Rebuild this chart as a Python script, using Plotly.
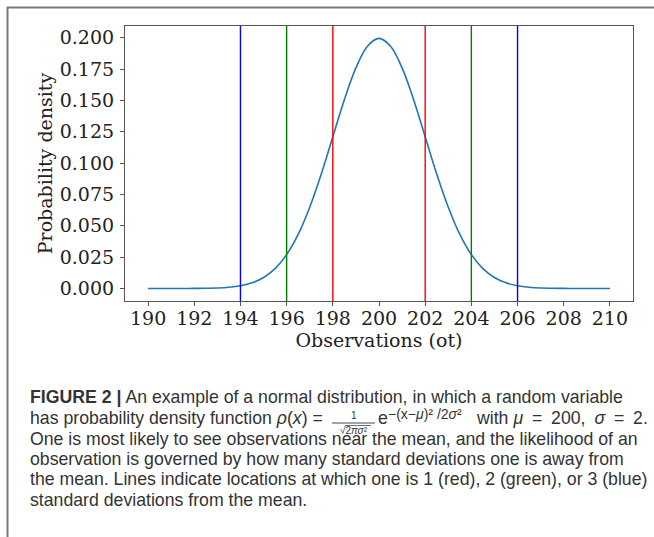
import plotly.graph_objects as go

# ---- data ----
obs_x = [190.0, 190.5, 191.0, 191.5, 192.0, 192.5, 193.0, 193.5, 194.0, 194.5,
         195.0, 195.5, 196.0, 196.5, 197.0, 197.5, 198.0, 198.5, 199.0, 199.5,
         200.0, 200.5, 201.0, 201.5, 202.0, 202.5, 203.0, 203.5, 204.0, 204.5,
         205.0, 205.5, 206.0, 206.5, 207.0, 207.5, 208.0, 208.5, 209.0, 209.5, 210.0]
density = [0.0000, 0.0000, 0.0000, 0.0000, 0.0001, 0.0002, 0.0004, 0.0010, 0.0022, 0.0045,
           0.0088, 0.0159, 0.0270, 0.0431, 0.0648, 0.0913, 0.1210, 0.1506, 0.1760, 0.1933,
           0.1995, 0.1933, 0.1760, 0.1506, 0.1210, 0.0913, 0.0648, 0.0431, 0.0270, 0.0159,
           0.0088, 0.0045, 0.0022, 0.0010, 0.0004, 0.0002, 0.0001, 0.0000, 0.0000, 0.0000, 0.0000]

sd_lines_x = [198, 202, 196, 204, 194, 206]
sd_lines_color = ["#ff0000", "#ff0000", "#008000", "#008000", "#0000ff", "#0000ff"]

x_ticks = [190, 192, 194, 196, 198, 200, 202, 204, 206, 208, 210]
y_ticks = [0.0, 0.025, 0.05, 0.075, 0.1, 0.125, 0.15, 0.175, 0.2]

caption_lines = [
    "<b>FIGURE 2 |</b> An example of a normal distribution, in which a random variable",
    None,
    "One is most likely to see observations near the mean, and the likelihood of an",
    "observation is governed by how many standard deviations one is away from",
    "the mean. Lines indicate locations at which one is 1 (red), 2 (green), or 3 (blue)",
    "standard deviations from the mean.",
]

# ---- layout geometry (pixels) ----
W, H = 654, 537
L, R, T, B = 125, 21, 26, 236
PW, PH = W - L - R, H - T - B


def px(x):
    return (x - L) / PW


def py(y):
    return (H - B - y) / PH


fig = go.Figure()

fig.add_trace(go.Scatter(x=obs_x, y=density, mode="lines",
                         line=dict(color="#1f77b4", width=1.6, shape="spline", smoothing=1.0),
                         showlegend=False, hoverinfo="skip"))

for xv, col in zip(sd_lines_x, sd_lines_color):
    fig.add_shape(type="line", xref="x", yref="paper", x0=xv, x1=xv, y0=0, y1=1,
                  line=dict(color=col, width=1.4))

# outer frame (top and left edges)
frame_col = "#7a7a7a"
fig.add_shape(type="line", xref="paper", yref="paper", x0=px(7), x1=px(660), y0=py(7.5), y1=py(7.5),
              line=dict(color=frame_col, width=2))
fig.add_shape(type="line", xref="paper", yref="paper", x0=px(7.5), x1=px(7.5), y0=py(7), y1=py(545),
              line=dict(color=frame_col, width=2))

txt_col = "#333333"
cap_font = dict(family="Liberation Sans, Arial, sans-serif", size=17.7, color=txt_col)
line_y = [397, 418, 438.5, 459, 479.5, 500]
for txt, yy in zip(caption_lines, line_y):
    if txt is None:
        continue
    fig.add_annotation(text=txt, xref="paper", yref="paper", x=px(28), y=py(yy),
                       xanchor="left", yanchor="middle", showarrow=False, font=cap_font)

# formula line
fig.add_annotation(text="has probability density function <i>ρ</i>(<i>x</i>) =",
                   xref="paper", yref="paper", x=px(28), y=py(418),
                   xanchor="left", yanchor="middle", showarrow=False, font=cap_font)
small_font = dict(family="Liberation Sans, Arial, sans-serif", size=10, color=txt_col)
fig.add_annotation(text="1", xref="paper", yref="paper", x=px(353.5), y=py(415),
                   xanchor="center", yanchor="middle", showarrow=False, font=small_font)
fig.add_annotation(text="√2<i>πσ</i>²", xref="paper", yref="paper", x=px(353.5), y=py(430),
                   xanchor="center", yanchor="middle", showarrow=False, font=small_font)
fig.add_shape(type="line", xref="paper", yref="paper", x0=px(332), x1=px(375), y0=py(423), y1=py(423),
              line=dict(color=txt_col, width=0.9))
fig.add_shape(type="line", xref="paper", yref="paper", x0=px(345), x1=px(371), y0=py(425.5), y1=py(425.5),
              line=dict(color=txt_col, width=0.7))
fig.add_annotation(text="e", xref="paper", yref="paper", x=px(375.5), y=py(418),
                   xanchor="left", yanchor="middle", showarrow=False, font=cap_font)
fig.add_annotation(text="−(x−<i>μ</i>)² /2<i>σ</i>²", xref="paper", yref="paper", x=px(386), y=py(413.5),
                   xanchor="left", yanchor="middle", showarrow=False,
                   font=dict(family="Liberation Sans, Arial, sans-serif", size=14, color=txt_col))
fig.add_annotation(text="with <i>μ</i>\u2002=\u2002200,\u2002<i>σ</i>\u2002=\u20022.",
                   xref="paper", yref="paper", x=px(474), y=py(418),
                   xanchor="left", yanchor="middle", showarrow=False, font=cap_font)

tick_font = dict(family="DejaVu Serif, serif", size=19, color="#222222")
axis_col = "#555555"
fig.update_xaxes(range=[189, 211], tickvals=x_ticks, ticktext=[str(v) for v in x_ticks],
                 ticks="outside", ticklen=4, tickcolor=axis_col, tickfont=tick_font,
                 ticklabelstandoff=-4,
                 showline=True, linecolor=axis_col, linewidth=1.2, mirror=True,
                 showgrid=False, zeroline=False,
                 title=dict(text="Observations (ot)", font=tick_font, standoff=2))
fig.update_yaxes(range=[-0.00997, 0.2094], tickvals=y_ticks,
                 ticktext=[f"{v:.3f}" for v in y_ticks],
                 ticks="outside", ticklen=4, tickcolor=axis_col, tickfont=tick_font,
                 ticklabelstandoff=2,
                 showline=True, linecolor=axis_col, linewidth=1.2, mirror=True,
                 showgrid=False, zeroline=False,
                 title=dict(text="Probability density", font=tick_font, standoff=2))

fig.update_layout(width=W, height=H, margin=dict(l=L, r=R, t=T, b=B, autoexpand=False),
                  paper_bgcolor="white", plot_bgcolor="white", showlegend=False)

fig.write_html("out.html")
